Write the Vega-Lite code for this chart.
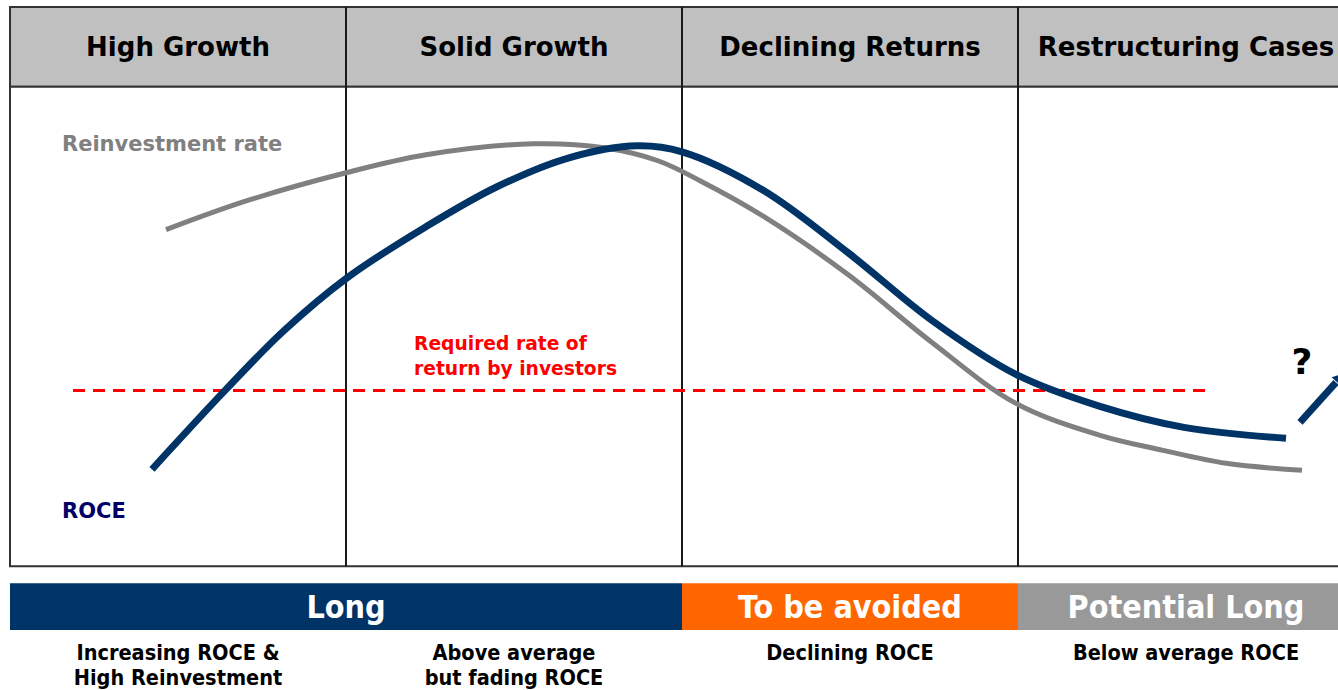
{
  "$schema": "https://vega.github.io/schema/vega-lite/v6.json",
  "autosize": {"type": "fit", "contains": "padding"},
  "width": 1338,
  "height": 690,
  "padding": 0,
  "background": "white",
  "config": {"view": {"stroke": null}},
  "datasets": {
    "boxes": [
      {"part": "header", "x": 10, "x2": 1345, "y": 7, "y2": 87, "fill": "#C0C0C0"},
      {"part": "plot", "x": 10, "x2": 1345, "y": 87, "y2": 567, "fill": "#FFFFFF"}
    ],
    "bands": [
      {"label": "Long", "x": 10, "x2": 682, "y": 584, "y2": 631, "fill": "#003366", "cx": 346},
      {"label": "To be avoided", "x": 682, "x2": 1018, "y": 584, "y2": 631, "fill": "#FF6600", "cx": 850},
      {"label": "Potential Long", "x": 1018, "x2": 1345, "y": 584, "y2": 631, "fill": "#999999", "cx": 1186}
    ],
    "dividers": [
      {"x": 346, "y": 7, "y2": 567},
      {"x": 682, "y": 7, "y2": 567},
      {"x": 1018, "y": 7, "y2": 567}
    ],
    "headers": [
      {"label": "High Growth", "cx": 178, "cy": 48},
      {"label": "Solid Growth", "cx": 514, "cy": 48},
      {"label": "Declining Returns", "cx": 850, "cy": 48},
      {"label": "Restructuring Cases", "cx": 1186, "cy": 48}
    ],
    "curves": [
      {"series": "Reinvestment rate", "x": 166, "y": 230},
      {"series": "Reinvestment rate", "x": 247, "y": 201},
      {"series": "Reinvestment rate", "x": 346, "y": 173},
      {"series": "Reinvestment rate", "x": 426, "y": 155},
      {"series": "Reinvestment rate", "x": 533, "y": 144},
      {"series": "Reinvestment rate", "x": 604, "y": 148},
      {"series": "Reinvestment rate", "x": 658, "y": 161},
      {"series": "Reinvestment rate", "x": 700, "y": 181},
      {"series": "Reinvestment rate", "x": 764, "y": 217},
      {"series": "Reinvestment rate", "x": 848, "y": 275},
      {"series": "Reinvestment rate", "x": 932, "y": 343},
      {"series": "Reinvestment rate", "x": 1016, "y": 404},
      {"series": "Reinvestment rate", "x": 1100, "y": 436},
      {"series": "Reinvestment rate", "x": 1163, "y": 451},
      {"series": "Reinvestment rate", "x": 1226, "y": 464},
      {"series": "Reinvestment rate", "x": 1302, "y": 471},
      {"series": "ROCE", "x": 152, "y": 470},
      {"series": "ROCE", "x": 226, "y": 390},
      {"series": "ROCE", "x": 283, "y": 332},
      {"series": "ROCE", "x": 346, "y": 279},
      {"series": "ROCE", "x": 426, "y": 227},
      {"series": "ROCE", "x": 497, "y": 187},
      {"series": "ROCE", "x": 569, "y": 158},
      {"series": "ROCE", "x": 637, "y": 146},
      {"series": "ROCE", "x": 682, "y": 152},
      {"series": "ROCE", "x": 764, "y": 191},
      {"series": "ROCE", "x": 848, "y": 253},
      {"series": "ROCE", "x": 932, "y": 321},
      {"series": "ROCE", "x": 1016, "y": 375},
      {"series": "ROCE", "x": 1100, "y": 407},
      {"series": "ROCE", "x": 1184, "y": 428},
      {"series": "ROCE", "x": 1286, "y": 439}
    ],
    "arrow": [
      {"x": 1300, "y": 423},
      {"x": 1336, "y": 383}
    ],
    "hurdle": [
      {"x": 73, "y": 391},
      {"x": 1210, "y": 391}
    ],
    "subs": [
      {"label": ["Increasing ROCE &", "High Reinvestment"], "cx": 178},
      {"label": ["Above average", "but fading ROCE"], "cx": 514},
      {"label": ["Declining ROCE"], "cx": 850},
      {"label": ["Below average ROCE"], "cx": 1186}
    ]
  },
  "layer": [
    {
      "data": {"name": "boxes"},
      "mark": {"type": "rect", "stroke": "#333333", "strokeWidth": 2, "clip": true},
      "encoding": {
        "x": {"field": "x", "type": "quantitative", "scale": {"domain": [0, 1338], "nice": false, "zero": false}, "axis": null},
        "x2": {"field": "x2"},
        "y": {"field": "y", "type": "quantitative", "scale": {"domain": [0, 690], "nice": false, "zero": false, "reverse": true}, "axis": null},
        "y2": {"field": "y2"},
        "fill": {"field": "fill", "type": "nominal", "scale": null}
      }
    },
    {
      "data": {"name": "dividers"},
      "mark": {"type": "rule", "stroke": "#1a1a1a", "strokeWidth": 2},
      "encoding": {
        "x": {"field": "x", "type": "quantitative"},
        "y": {"field": "y", "type": "quantitative"},
        "y2": {"field": "y2"}
      }
    },
    {
      "data": {"name": "headers"},
      "mark": {"type": "text", "font": "DejaVu Sans", "fontWeight": "bold", "fontSize": 26, "color": "#000000", "align": "center", "baseline": "middle", "clip": true},
      "encoding": {
        "x": {"field": "cx", "type": "quantitative"},
        "y": {"field": "cy", "type": "quantitative"},
        "text": {"field": "label"}
      }
    },
    {
      "data": {"name": "hurdle"},
      "mark": {"type": "line", "stroke": "#FF0000", "strokeWidth": 3, "strokeDash": [12, 8]},
      "encoding": {
        "x": {"field": "x", "type": "quantitative"},
        "y": {"field": "y", "type": "quantitative"}
      }
    },
    {
      "data": {"name": "curves"},
      "mark": {"type": "line", "interpolate": "catmull-rom", "strokeCap": "butt"},
      "encoding": {
        "x": {"field": "x", "type": "quantitative"},
        "y": {"field": "y", "type": "quantitative"},
        "detail": {"field": "series"},
        "stroke": {"field": "series", "type": "nominal", "scale": {"domain": ["Reinvestment rate", "ROCE"], "range": ["#808080", "#003366"]}, "legend": null},
        "strokeWidth": {"field": "series", "type": "nominal", "scale": {"domain": ["Reinvestment rate", "ROCE"], "range": [5, 7]}, "legend": null}
      }
    },
    {
      "data": {"name": "arrow"},
      "mark": {"type": "line", "stroke": "#003366", "strokeWidth": 7, "clip": true},
      "encoding": {
        "x": {"field": "x", "type": "quantitative"},
        "y": {"field": "y", "type": "quantitative"}
      }
    },
    {
      "data": {"values": [{"x": 1340, "y": 378}]},
      "mark": {"type": "point", "shape": "triangle-up", "filled": true, "color": "#003366", "opacity": 1, "size": 160, "angle": 42, "clip": true},
      "encoding": {
        "x": {"field": "x", "type": "quantitative"},
        "y": {"field": "y", "type": "quantitative"}
      }
    },
    {
      "data": {"values": [{"x": 1302, "y": 364, "t": "?"}]},
      "mark": {"type": "text", "font": "DejaVu Sans", "fontWeight": "bold", "fontSize": 36, "color": "#000000", "align": "center", "baseline": "middle"},
      "encoding": {
        "x": {"field": "x", "type": "quantitative"},
        "y": {"field": "y", "type": "quantitative"},
        "text": {"field": "t"}
      }
    },
    {
      "data": {"values": [
        {"x": 62, "y": 145, "t": "Reinvestment rate", "c": "#808080"},
        {"x": 62, "y": 513, "t": "ROCE", "c": "#000066"}
      ]},
      "mark": {"type": "text", "font": "DejaVu Sans", "fontWeight": "bold", "fontSize": 21, "align": "left", "baseline": "middle"},
      "encoding": {
        "x": {"field": "x", "type": "quantitative"},
        "y": {"field": "y", "type": "quantitative"},
        "text": {"field": "t"},
        "color": {"field": "c", "type": "nominal", "scale": null}
      }
    },
    {
      "data": {"values": [
        {"x": 414, "y": 344, "t": "Required rate of"},
        {"x": 414, "y": 370, "t": "return by investors"}
      ]},
      "mark": {"type": "text", "font": "DejaVu Sans", "fontWeight": "bold", "fontSize": 18.7, "color": "#FF0000", "align": "left", "baseline": "middle"},
      "encoding": {
        "x": {"field": "x", "type": "quantitative"},
        "y": {"field": "y", "type": "quantitative"},
        "text": {"field": "t"}
      }
    },
    {
      "data": {"name": "bands"},
      "mark": {"type": "rect", "clip": true},
      "encoding": {
        "x": {"field": "x", "type": "quantitative"},
        "x2": {"field": "x2"},
        "y": {"field": "y", "type": "quantitative"},
        "y2": {"field": "y2"},
        "fill": {"field": "fill", "type": "nominal", "scale": null}
      }
    },
    {
      "data": {"name": "bands"},
      "mark": {"type": "text", "font": "DejaVu Sans Condensed", "fontWeight": "bold", "fontSize": 32, "color": "#FFFFFF", "align": "center", "baseline": "middle", "dy": 1},
      "encoding": {
        "x": {"field": "cx", "type": "quantitative"},
        "y": {"datum": 608, "type": "quantitative"},
        "text": {"field": "label"}
      }
    },
    {
      "data": {"name": "subs"},
      "mark": {"type": "text", "font": "DejaVu Sans Condensed", "fontWeight": "bold", "fontSize": 21.5, "color": "#000000", "align": "center", "baseline": "middle", "lineHeight": 25},
      "encoding": {
        "x": {"field": "cx", "type": "quantitative"},
        "y": {"datum": 655, "type": "quantitative"},
        "text": {"field": "label"}
      }
    }
  ]
}
